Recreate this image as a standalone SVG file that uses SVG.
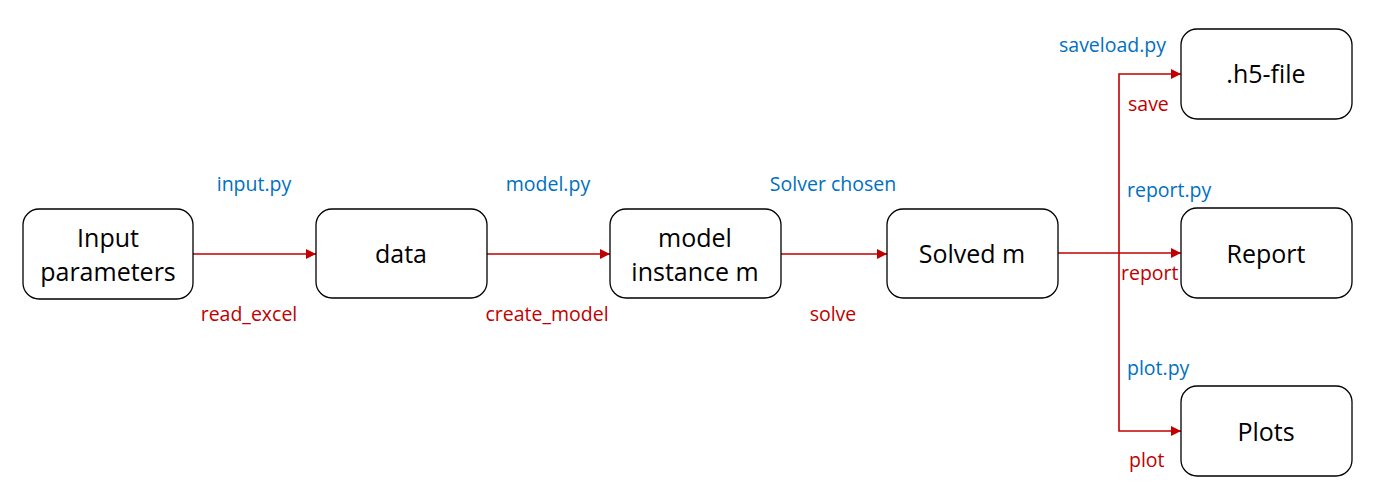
<svg xmlns="http://www.w3.org/2000/svg" width="1379" height="500" viewBox="0 0 1379 500">
<defs>
<marker id="ah" viewBox="0 0 10 10" refX="10" refY="5" markerWidth="10" markerHeight="10" markerUnits="userSpaceOnUse" orient="auto">
<path d="M0,0 L10,5 L0,10 z" fill="#C00000"/>
</marker>
<style>
.box{fill:#fff;stroke:#000;stroke-width:1.3}
.nt{font-family:"Open Sans","Liberation Sans",sans-serif;font-size:25px;fill:#000;text-anchor:middle}
.bl{font-family:"Open Sans","Liberation Sans",sans-serif;font-size:19.5px;fill:#0070C0}
.rd{font-family:"Open Sans","Liberation Sans",sans-serif;font-size:19.5px;fill:#C00000}
.c{text-anchor:middle}
.ln{fill:none;stroke:#C00000;stroke-width:1.6}
</style>
</defs>
<rect width="1379" height="500" fill="#fff"/>
<g id="connectors">
<line class="ln" x1="193" y1="254" x2="316" y2="254" marker-end="url(#ah)"/>
<line class="ln" x1="487" y1="254" x2="610" y2="254" marker-end="url(#ah)"/>
<line class="ln" x1="781" y1="254" x2="887" y2="254" marker-end="url(#ah)"/>
<line class="ln" x1="1058" y1="253" x2="1181" y2="253" marker-end="url(#ah)"/>
<polyline class="ln" points="1119,253 1119,74 1181,74" marker-end="url(#ah)"/>
<polyline class="ln" points="1119,253 1119,431 1181,431" marker-end="url(#ah)"/>
<text class="bl c" x="254" y="191">input.py</text>
<text class="rd c" x="249" y="321">read_excel</text>
<text class="bl c" x="548" y="191">model.py</text>
<text class="rd c" x="547" y="321">create_model</text>
<text class="bl c" x="833" y="191">Solver chosen</text>
<text class="rd c" x="833" y="321">solve</text>
<text class="bl" x="1059" y="52">saveload.py</text>
<text class="rd" x="1128" y="111">save</text>
<text class="bl" x="1127" y="197">report.py</text>
<text class="rd" x="1121" y="280">report</text>
<text class="bl" x="1127" y="375">plot.py</text>
<text class="rd" x="1129" y="467">plot</text>
</g>
<g id="input">
<rect class="box" x="23" y="209" width="170" height="90" rx="16"/>
<text class="nt" x="108" y="247">Input</text>
<text class="nt" x="108" y="281">parameters</text>
</g>
<g id="data">
<rect class="box" x="316" y="209" width="171" height="89" rx="16"/>
<text class="nt" x="401" y="263">data</text>
</g>
<g id="model">
<rect class="box" x="610" y="209" width="171" height="89" rx="16"/>
<text class="nt" x="695" y="247">model</text>
<text class="nt" x="695" y="281">instance m</text>
</g>
<g id="solved">
<rect class="box" x="887" y="209" width="171" height="89" rx="16"/>
<text class="nt" x="972" y="263">Solved m</text>
</g>
<g id="h5">
<rect class="box" x="1181" y="29" width="171" height="90" rx="16"/>
<text class="nt" x="1266" y="83">.h5-file</text>
</g>
<g id="report">
<rect class="box" x="1181" y="208" width="171" height="90" rx="16"/>
<text class="nt" x="1266" y="263">Report</text>
</g>
<g id="plots">
<rect class="box" x="1181" y="386" width="171" height="90" rx="16"/>
<text class="nt" x="1266" y="441">Plots</text>
</g>
</svg>
